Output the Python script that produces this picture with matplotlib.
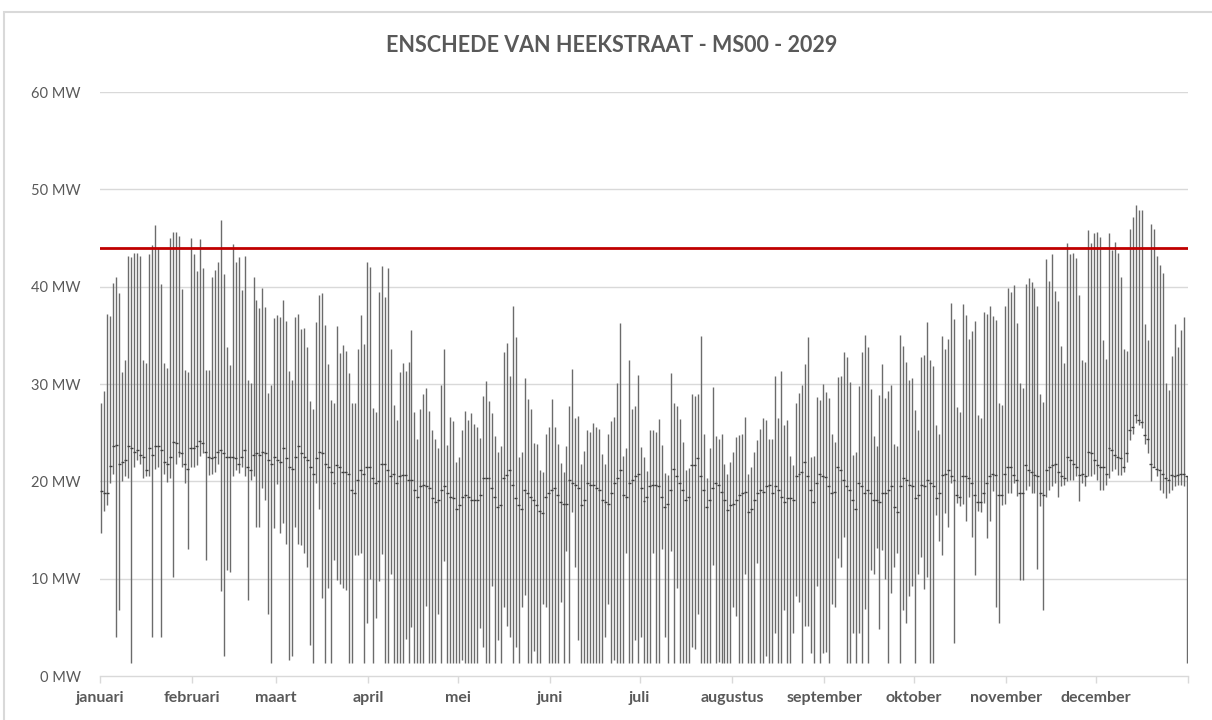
import numpy as np
import matplotlib
matplotlib.use('Agg')
import matplotlib.pyplot as plt
from matplotlib.patches import Rectangle

plt.rcParams['font.family'] = ['Lato', 'DejaVu Sans']

title = 'ENSCHEDE VAN HEEKSTRAAT - MS00 - 2029'
months = ['januari', 'februari', 'maart', 'april', 'mei', 'juni', 'juli',
          'augustus', 'september', 'oktober', 'november', 'december']
month_start = [0, 31, 59, 90, 120, 151, 181, 212, 243, 273, 304, 334, 365]
limit_mw = 44.0

# daily max load (MW), one row per week
high = [
    28.0, 29.3, 37.2, 37.0, 40.4, 41.0, 39.4,
    31.2, 32.5, 43.2, 43.0, 43.5, 43.5, 43.2,
    32.5, 32.2, 43.4, 44.3, 46.3, 44.0, 40.3,
    32.2, 31.6, 45.0, 45.6, 45.6, 45.2, 39.8,
    31.4, 31.2, 45.0, 43.4, 41.6, 44.9, 41.9,
    31.4, 31.4, 41.0, 41.7, 42.5, 46.8, 41.3,
    33.8, 32.0, 44.4, 42.5, 43.0, 39.7, 43.2,
    30.4, 30.1, 41.0, 38.6, 37.8, 39.9, 37.9,
    29.1, 29.9, 36.8, 37.1, 36.9, 38.6, 36.5,
    31.3, 30.4, 36.9, 37.2, 35.6, 35.8, 33.8,
    28.3, 27.4, 36.4, 39.1, 39.3, 36.1, 32.1,
    28.4, 28.0, 36.0, 33.2, 34.0, 33.4, 31.1,
    28.0, 28.0, 33.6, 37.1, 34.1, 42.5, 42.0,
    27.5, 27.1, 39.5, 42.1, 38.9, 41.9, 33.6,
    27.8, 26.3, 31.2, 32.2, 31.3, 32.3, 35.5,
    27.1, 24.4, 27.4, 29.0, 29.6, 27.2, 25.3,
    24.3, 23.4, 29.9, 33.6, 23.7, 26.6, 26.2,
    22.0, 22.5, 25.3, 27.2, 26.3, 27.0, 25.9,
    25.6, 24.5, 28.8, 30.3, 28.3, 27.0, 24.7,
    23.0, 23.6, 33.3, 34.2, 30.8, 38.0, 34.8,
    22.5, 23.0, 30.6, 28.5, 27.4, 23.9, 23.8,
    21.2, 21.0, 24.9, 25.6, 28.5, 25.6, 23.8,
    21.9, 21.0, 23.6, 27.7, 31.5, 26.5, 26.7,
    21.8, 23.1, 25.3, 25.1, 26.0, 25.6, 25.4,
    22.8, 21.8, 24.9, 26.2, 26.6, 30.1, 36.3,
    22.6, 23.4, 32.5, 27.4, 27.7, 30.9, 23.5,
    22.5, 21.1, 25.3, 25.3, 25.1, 26.4, 23.7,
    20.9, 20.6, 31.1, 28.0, 27.7, 26.4, 24.0,
    21.2, 21.4, 29.0, 28.8, 29.0, 34.9, 24.9,
    20.3, 23.4, 29.7, 24.7, 24.3, 24.9, 21.8,
    20.8, 22.0, 23.0, 24.6, 24.8, 24.9, 26.6,
    20.8, 21.5, 23.0, 24.2, 25.4, 26.5, 26.3,
    24.4, 24.3, 30.8, 26.5, 31.3, 25.8, 26.3,
    22.6, 21.7, 28.0, 29.1, 29.9, 32.1, 34.8,
    22.5, 22.6, 28.7, 28.4, 30.0, 29.2, 28.6,
    24.9, 24.0, 30.7, 30.8, 33.3, 32.8, 30.2,
    22.7, 23.0, 29.8, 33.3, 35.0, 33.8, 29.5,
    24.7, 23.6, 28.9, 32.1, 28.6, 29.3, 29.9,
    23.8, 23.6, 35.0, 33.9, 32.3, 30.4, 30.6,
    27.3, 25.3, 32.8, 33.0, 36.4, 32.5, 31.8,
    25.8, 24.9, 34.9, 33.6, 34.6, 38.3, 36.7,
    27.6, 27.1, 38.2, 37.1, 34.6, 35.4, 36.5,
    26.8, 26.5, 37.4, 37.2, 38.0, 37.0, 36.6,
    28.0, 27.8, 38.0, 39.9, 39.5, 40.2, 36.3,
    30.1, 29.6, 40.3, 40.9, 40.5, 39.9, 38.0,
    29.0, 28.2, 42.8, 40.6, 43.4, 39.6, 38.5,
    33.9, 32.2, 44.5, 43.4, 43.5, 42.9, 39.1,
    32.5, 32.3, 45.8, 44.5, 45.5, 45.6, 45.1,
    34.5, 32.6, 45.5, 43.8, 44.6, 43.5, 41.0,
    33.6, 33.4, 45.9, 47.2, 48.4, 47.9, 47.9,
    36.2, 34.5, 46.4, 45.9, 43.1, 42.2, 41.4,
    30.1, 29.4, 32.9, 36.2, 33.8, 35.5, 36.9,
    20.5,
]

# daily min load (MW)
low = [
    14.7, 17.0, 17.6, 19.8, 20.8, 4.0, 6.8,
    20.0, 20.5, 20.3, 1.3, 21.5, 22.2, 21.8,
    20.3, 20.5, 20.5, 4.0, 21.3, 21.5, 4.0,
    20.8, 19.9, 20.3, 10.2, 21.8, 22.5, 21.5,
    19.8, 13.0, 21.5, 21.5, 21.7, 22.6, 22.9,
    11.9, 20.6, 20.8, 21.0, 21.8, 8.7, 2.1,
    10.9, 10.7, 20.5, 21.2, 20.9, 21.5, 20.5,
    7.8, 20.1, 20.5, 15.3, 15.3, 19.3, 18.1,
    6.4, 1.3, 15.2, 19.7, 14.7, 15.7, 13.6,
    1.6, 2.1, 15.3, 13.6, 13.5, 12.6, 11.2,
    3.2, 1.3, 19.8, 17.2, 8.0, 1.3, 9.0,
    1.3, 11.9, 9.9, 9.5, 9.0, 8.8, 1.3,
    1.3, 12.4, 12.4, 12.6, 1.3, 5.4, 10.0,
    1.3, 6.0, 9.8, 12.5, 1.3, 1.3, 10.5,
    1.3, 1.3, 1.3, 1.3, 3.8, 1.3, 5.0,
    1.3, 1.3, 1.3, 1.3, 7.2, 1.3, 1.3,
    1.3, 6.4, 1.3, 11.8, 1.3, 1.3, 1.3,
    1.3, 1.3, 1.6, 1.3, 1.3, 1.3, 1.3,
    1.3, 4.9, 3.0, 1.3, 1.3, 9.2, 1.3,
    3.7, 1.3, 7.1, 5.1, 4.0, 1.3, 3.0,
    1.3, 7.1, 8.3, 1.3, 1.3, 2.6, 1.3,
    1.3, 7.4, 7.1, 1.3, 1.3, 1.3, 1.3,
    7.6, 1.3, 12.8, 1.3, 16.9, 11.2, 3.7,
    1.3, 1.3, 1.3, 1.3, 1.3, 1.3, 1.3,
    1.3, 4.0, 7.4, 1.3, 1.6, 1.3, 1.3,
    1.3, 12.6, 1.3, 1.3, 3.7, 1.3, 4.0,
    1.3, 1.3, 1.3, 12.6, 1.3, 1.3, 13.0,
    4.0, 1.3, 12.8, 1.3, 9.0, 1.3, 1.3,
    1.3, 1.3, 3.0, 2.8, 6.4, 1.3, 1.3,
    1.3, 1.3, 11.4, 1.3, 1.4, 1.3, 1.3,
    1.3, 1.3, 7.1, 6.2, 1.3, 1.3, 10.5,
    1.3, 1.3, 1.3, 11.6, 1.3, 1.3, 2.1,
    1.3, 1.3, 4.4, 1.3, 1.3, 6.8, 1.3,
    1.3, 4.4, 8.2, 7.6, 1.3, 5.1, 5.1,
    2.4, 1.3, 9.2, 1.3, 2.4, 2.5, 1.3,
    7.4, 7.1, 12.1, 11.2, 14.3, 1.3, 1.3,
    4.4, 1.3, 4.4, 1.3, 6.9, 1.3, 10.9,
    10.5, 13.1, 4.8, 12.9, 10.0, 1.3, 8.5,
    11.2, 12.6, 1.3, 6.8, 5.4, 8.2, 9.2,
    1.3, 10.5, 12.2, 8.9, 10.2, 1.3, 1.3,
    16.5, 13.9, 12.4, 16.7, 15.3, 19.8, 3.4,
    17.8, 17.5, 17.7, 15.9, 18.4, 14.3, 10.4,
    17.0, 16.8, 17.8, 14.2, 15.9, 19.0, 7.1,
    5.4, 17.6, 17.7, 18.8, 18.8, 19.8, 18.5,
    9.9, 9.9, 19.1, 19.5, 18.8, 18.8, 11.0,
    17.5, 6.8, 18.4, 19.1, 19.5, 19.8, 18.4,
    19.5, 19.6, 20.0, 20.1, 20.1, 20.5, 18.0,
    19.8, 19.5, 20.5, 20.5, 20.8, 20.1, 19.1,
    19.1, 19.6, 20.3, 21.1, 21.3, 20.6, 20.6,
    21.0, 22.0, 24.2, 24.9, 26.0, 25.8, 25.5,
    23.8, 22.9, 20.0, 21.5, 20.5, 19.1, 18.8,
    18.3, 18.8, 19.1, 19.5, 19.6, 19.6, 19.5,
    1.3,
]

# daily mean load (MW), drawn as the small tick
close = [
    19.0, 18.8, 18.8, 21.6, 23.6, 23.7, 21.8,
    22.0, 22.2, 23.6, 23.4, 23.0, 23.2, 22.7,
    22.5, 21.2, 23.4, 22.7, 23.6, 23.6, 23.2,
    22.0, 21.8, 22.5, 24.0, 23.9, 23.0, 22.9,
    21.8, 21.3, 23.4, 23.4, 23.6, 24.1, 23.9,
    23.0, 22.5, 22.4, 22.5, 23.0, 23.2, 22.9,
    22.5, 22.5, 22.5, 22.4, 21.8, 22.5, 23.2,
    21.5, 21.2, 22.7, 22.9, 22.7, 23.0, 22.9,
    22.2, 21.8, 22.5, 22.2, 22.0, 23.4, 22.4,
    21.5, 21.3, 22.5, 23.6, 22.9, 22.5, 22.2,
    21.5, 20.8, 22.4, 23.0, 22.9, 21.8, 21.5,
    21.0, 19.8, 21.7, 21.5, 21.0, 21.0, 20.8,
    19.1, 18.8, 20.1, 21.2, 20.8, 21.5, 21.5,
    20.3, 19.8, 20.0, 21.8, 21.8, 21.2, 20.5,
    20.8, 19.8, 20.5, 20.7, 20.7, 20.1, 20.1,
    19.1, 18.4, 19.5, 19.6, 19.5, 19.3, 18.3,
    17.9, 18.1, 19.1, 19.5, 18.8, 18.4, 18.3,
    17.2, 17.6, 18.4, 18.6, 18.4, 18.1, 18.1,
    18.1, 18.6, 20.3, 20.3, 20.3, 19.3, 18.4,
    17.4, 17.6, 20.3, 20.6, 21.2, 19.6, 18.3,
    17.6, 17.2, 19.1, 18.8, 18.4, 18.1, 17.6,
    17.0, 16.7, 18.4, 18.8, 19.1, 19.3, 18.6,
    17.9, 17.7, 17.7, 20.1, 19.8, 19.6, 19.3,
    17.6, 18.1, 19.8, 19.6, 19.6, 19.3, 19.1,
    18.1, 17.9, 17.7, 18.8, 19.8, 20.3, 21.2,
    18.6, 18.4, 19.8, 20.1, 20.5, 20.8, 19.3,
    18.0, 18.4, 19.5, 19.6, 19.6, 19.5, 18.4,
    17.4, 17.7, 19.1, 21.3, 20.5, 19.8, 19.1,
    18.1, 18.4, 21.7, 21.7, 22.4, 20.5, 19.1,
    17.4, 18.1, 19.3, 19.8, 19.6, 18.9, 18.1,
    17.1, 17.6, 17.7, 18.1, 18.6, 18.8, 18.9,
    16.9, 17.2, 18.1, 18.8, 19.1, 18.9, 19.5,
    19.6, 18.8, 19.5, 19.1, 18.4, 17.9, 18.3,
    18.3, 18.1, 20.5, 20.8, 21.0, 22.0, 20.5,
    19.1, 17.9, 19.8, 20.8, 20.5, 20.4, 19.5,
    18.8, 18.9, 21.5, 21.2, 20.1, 19.5, 19.1,
    18.1, 17.2, 19.8, 19.5, 18.8, 19.1, 18.8,
    18.1, 18.1, 17.9, 18.8, 18.8, 19.1, 19.5,
    17.4, 16.9, 19.5, 20.3, 20.1, 19.6, 19.5,
    18.3, 18.6, 19.6, 19.5, 20.1, 19.8, 19.5,
    18.3, 18.8, 20.7, 20.8, 21.2, 20.5, 20.1,
    18.6, 18.4, 20.5, 20.5, 20.3, 19.8, 18.6,
    17.9, 17.9, 18.8, 19.8, 20.5, 20.8, 20.7,
    18.6, 18.6, 20.8, 21.5, 21.5, 20.7, 20.1,
    18.8, 18.8, 21.7, 21.2, 21.0, 20.7, 20.5,
    18.8, 18.6, 21.2, 21.5, 21.7, 21.8, 21.0,
    20.5, 20.3, 22.5, 22.2, 21.8, 21.5, 20.7,
    20.8, 20.5, 23.0, 22.9, 22.2, 21.7, 21.5,
    21.5, 20.8, 23.4, 23.2, 22.7, 22.5, 22.4,
    21.5, 22.9, 25.3, 25.6, 26.8, 26.3, 26.1,
    24.8, 24.4, 21.8, 21.5, 21.3, 21.2, 20.8,
    20.3, 20.1, 20.7, 20.5, 20.7, 20.8, 20.8,
    20.5,
]

grey_txt = '#595959'
grid_col = '#d9d9d9'

days = np.arange(len(high)) + 0.5

fig = plt.figure(figsize=(12.12, 7.2), dpi=100)
ax = fig.add_axes([100 / 1212, 1 - 676 / 720, 1088 / 1212, 584 / 720])

# chart border
fig.patches.append(Rectangle((4 / 1212, -0.1), 1.2, 1.1 - 12 / 720,
                             transform=fig.transFigure, fill=False,
                             edgecolor=grid_col, linewidth=1.5))

for v in range(10, 61, 10):
    ax.axhline(v, color=grid_col, linewidth=1.0, zorder=0)

ax.vlines(days, low, high, color='#6b6b6b', linewidth=1.0, zorder=2)
ax.hlines(close, days - 0.5, days + 0.5, color='#404040', linewidth=1.0, zorder=3)
ax.axhline(limit_mw, color='#c00000', linewidth=2.0, zorder=4)

ax.set_xlim(0, 365)
ax.set_ylim(0, 60)

ax.set_yticks(range(0, 61, 10))
ax.set_yticklabels([f'{v} MW' for v in range(0, 61, 10)])
ax.tick_params(axis='y', length=0, pad=14, labelsize=10.5, labelcolor=grey_txt)

ax.set_xticks(month_start)
ax.set_xticklabels(months + [''])
ax.tick_params(axis='x', length=5, width=1, color=grid_col, pad=6,
               labelsize=11.5, labelcolor=grey_txt)
for lab in ax.get_xticklabels():
    lab.set_fontweight('bold')

for side in ['top', 'right', 'left']:
    ax.spines[side].set_visible(False)
ax.spines['bottom'].set_color(grid_col)
ax.spines['bottom'].set_linewidth(1.0)

fig.text(0.505, 1 - 46 / 720, title, ha='center', va='center',
         fontsize=15.5, fontweight='bold', color=grey_txt)

fig.savefig('out.png', dpi=100)
